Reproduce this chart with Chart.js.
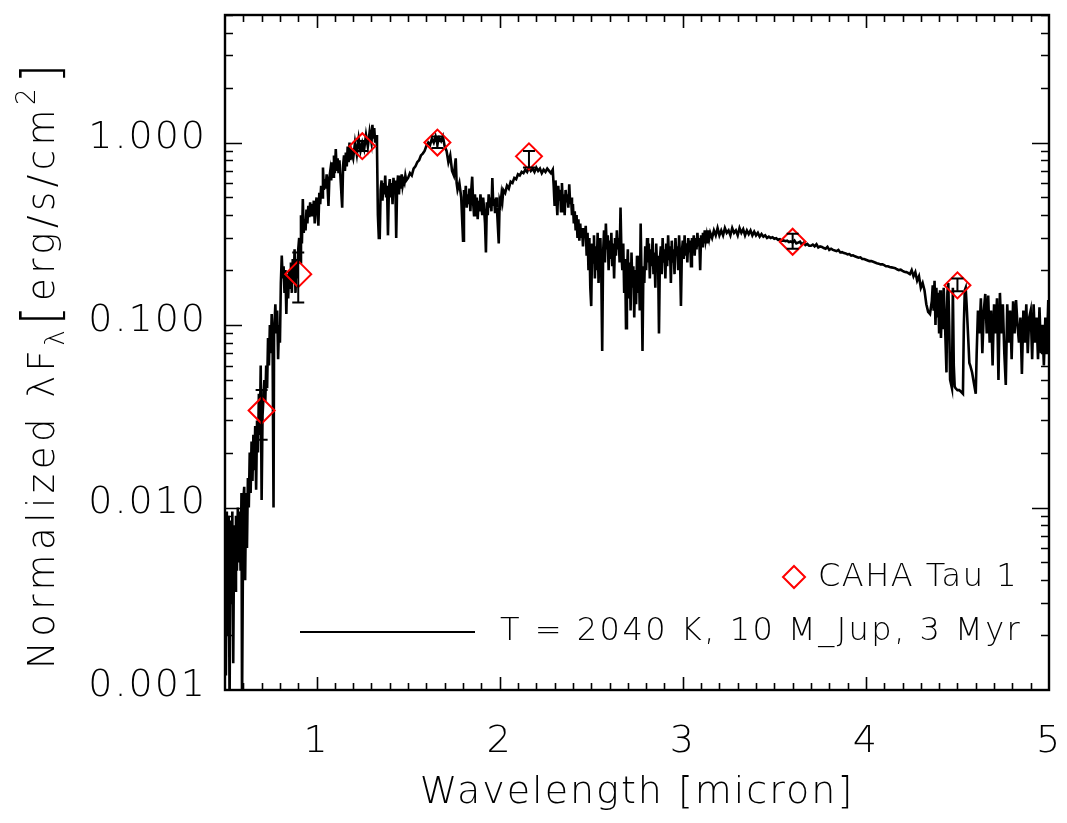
<!DOCTYPE html>
<html>
<head>
<meta charset="utf-8">
<title>CAHA Tau 1 SED</title>
<script src="https://cdn.jsdelivr.net/npm/chart.js@4.4.1/dist/chart.umd.min.js"></script>
<style>
  html, body { margin: 0; padding: 0; background: #ffffff; }
  canvas { display: block; }
</style>
</head>
<body>
<canvas id="sed" width="1067" height="823"></canvas>
<script>
// ---- Model spectrum (T = 2040 K, 10 M_Jup, 3 Myr), wavelength in micron ----
const modelWavelength = [
  0.500, 0.505, 0.510, 0.515, 0.520, 0.525, 0.530, 0.535, 0.540, 0.545,
  0.550, 0.555, 0.560, 0.565, 0.570, 0.575, 0.580, 0.585, 0.590, 0.593,
  0.600, 0.605, 0.610, 0.615, 0.620, 0.625, 0.630, 0.635, 0.640, 0.645,
  0.650, 0.655, 0.660, 0.665, 0.670, 0.675, 0.680, 0.685, 0.690, 0.695,
  0.700, 0.705, 0.710, 0.715, 0.720, 0.725, 0.730, 0.735, 0.740, 0.745,
  0.750, 0.755, 0.760, 0.765, 0.768, 0.775, 0.780, 0.785, 0.790, 0.795,
  0.800, 0.805, 0.810, 0.815, 0.820, 0.825, 0.830, 0.835, 0.840, 0.845,
  0.850, 0.855, 0.860, 0.865, 0.870, 0.875, 0.880, 0.885, 0.890, 0.895,
  0.900, 0.905, 0.910, 0.915, 0.920, 0.925, 0.930, 0.935, 0.940, 0.945,
  0.950, 0.955, 0.960, 0.965, 0.970, 0.975, 0.980, 0.985, 0.990, 0.995,
  1.000, 1.005, 1.010, 1.015, 1.020, 1.025, 1.030, 1.035, 1.040, 1.045,
  1.050, 1.055, 1.060, 1.065, 1.070, 1.075, 1.080, 1.085, 1.090, 1.095,
  1.100, 1.105, 1.110, 1.115, 1.120, 1.125, 1.130, 1.140, 1.145, 1.150,
  1.155, 1.160, 1.165, 1.170, 1.175, 1.180, 1.185, 1.190, 1.200, 1.210,
  1.220, 1.230, 1.240, 1.250, 1.260, 1.270, 1.280, 1.290, 1.300, 1.305,
  1.310, 1.315, 1.320, 1.325, 1.330, 1.335, 1.340, 1.345, 1.350, 1.355,
  1.360, 1.365, 1.370, 1.375, 1.380, 1.385, 1.390, 1.395, 1.400, 1.405,
  1.410, 1.415, 1.420, 1.425, 1.430, 1.435, 1.440, 1.445, 1.450, 1.455,
  1.460, 1.465, 1.470, 1.475, 1.480, 1.485, 1.490, 1.500, 1.510, 1.520,
  1.530, 1.540, 1.550, 1.560, 1.570, 1.580, 1.590, 1.600, 1.610, 1.620,
  1.630, 1.640, 1.650, 1.660, 1.670, 1.680, 1.690, 1.700, 1.710, 1.720,
  1.730, 1.740, 1.750, 1.760, 1.765, 1.770, 1.780, 1.790, 1.800, 1.805,
  1.810, 1.815, 1.820, 1.825, 1.830, 1.835, 1.840, 1.845, 1.850, 1.855,
  1.860, 1.865, 1.870, 1.875, 1.880, 1.885, 1.890, 1.895, 1.900, 1.905,
  1.910, 1.915, 1.920, 1.925, 1.930, 1.935, 1.940, 1.945, 1.950, 1.955,
  1.960, 1.965, 1.970, 1.975, 1.980, 1.985, 1.995, 2.000, 2.005, 2.010,
  2.015, 2.020, 2.030, 2.040, 2.050, 2.060, 2.070, 2.080, 2.090, 2.100,
  2.110, 2.120, 2.130, 2.140, 2.150, 2.160, 2.170, 2.180, 2.190, 2.200,
  2.210, 2.220, 2.230, 2.240, 2.250, 2.260, 2.270, 2.280, 2.290, 2.295,
  2.300, 2.305, 2.310, 2.315, 2.320, 2.325, 2.330, 2.335, 2.340, 2.345,
  2.350, 2.355, 2.360, 2.365, 2.370, 2.375, 2.380, 2.385, 2.390, 2.395,
  2.400, 2.405, 2.410, 2.415, 2.420, 2.425, 2.430, 2.435, 2.440, 2.445,
  2.450, 2.455, 2.460, 2.465, 2.470, 2.475, 2.480, 2.485, 2.490, 2.495,
  2.500, 2.505, 2.510, 2.515, 2.520, 2.525, 2.530, 2.535, 2.540, 2.545,
  2.550, 2.555, 2.560, 2.565, 2.570, 2.575, 2.580, 2.585, 2.590, 2.595,
  2.600, 2.605, 2.610, 2.615, 2.620, 2.625, 2.630, 2.635, 2.640, 2.645,
  2.650, 2.655, 2.660, 2.665, 2.670, 2.675, 2.680, 2.685, 2.690, 2.695,
  2.700, 2.705, 2.710, 2.715, 2.720, 2.725, 2.730, 2.735, 2.740, 2.745,
  2.750, 2.755, 2.760, 2.765, 2.770, 2.775, 2.780, 2.785, 2.790, 2.795,
  2.800, 2.805, 2.810, 2.815, 2.820, 2.825, 2.830, 2.835, 2.840, 2.845,
  2.850, 2.855, 2.860, 2.865, 2.870, 2.875, 2.880, 2.885, 2.890, 2.895,
  2.900, 2.905, 2.910, 2.915, 2.920, 2.925, 2.930, 2.935, 2.940, 2.945,
  2.950, 2.955, 2.960, 2.965, 2.970, 2.975, 2.980, 2.985, 2.990, 2.995,
  3.000, 3.005, 3.010, 3.015, 3.020, 3.025, 3.030, 3.035, 3.040, 3.045,
  3.050, 3.055, 3.060, 3.065, 3.070, 3.075, 3.080, 3.085, 3.090, 3.095,
  3.100, 3.105, 3.110, 3.115, 3.120, 3.125, 3.130, 3.135, 3.140, 3.145,
  3.150, 3.160, 3.170, 3.180, 3.190, 3.200, 3.210, 3.220, 3.230, 3.240,
  3.250, 3.260, 3.270, 3.280, 3.290, 3.300, 3.310, 3.320, 3.330, 3.340,
  3.350, 3.360, 3.370, 3.380, 3.390, 3.400, 3.410, 3.420, 3.430, 3.440,
  3.450, 3.460, 3.470, 3.480, 3.490, 3.500, 3.510, 3.520, 3.530, 3.540,
  3.550, 3.560, 3.570, 3.580, 3.590, 3.600, 3.610, 3.620, 3.630, 3.640,
  3.650, 3.660, 3.670, 3.680, 3.690, 3.700, 3.710, 3.720, 3.730, 3.740,
  3.750, 3.760, 3.770, 3.780, 3.790, 3.800, 3.810, 3.820, 3.830, 3.840,
  3.850, 3.860, 3.870, 3.880, 3.890, 3.900, 3.910, 3.920, 3.930, 3.940,
  3.950, 3.960, 3.970, 3.980, 3.990, 4.000, 4.010, 4.020, 4.030, 4.040,
  4.050, 4.060, 4.070, 4.080, 4.090, 4.100, 4.110, 4.120, 4.130, 4.140,
  4.150, 4.160, 4.170, 4.180, 4.190, 4.200, 4.210, 4.220, 4.230, 4.240,
  4.250, 4.260, 4.270, 4.280, 4.290, 4.300, 4.310, 4.320, 4.330, 4.340,
  4.350, 4.360, 4.365, 4.370, 4.375, 4.380, 4.385, 4.390, 4.395, 4.400,
  4.405, 4.410, 4.415, 4.420, 4.425, 4.430, 4.440, 4.445, 4.450, 4.455,
  4.460, 4.470, 4.475, 4.480, 4.485, 4.490, 4.500, 4.510, 4.520, 4.530,
  4.535, 4.540, 4.545, 4.550, 4.560, 4.565, 4.570, 4.580, 4.590, 4.600,
  4.605, 4.612, 4.620, 4.628, 4.636, 4.644, 4.652, 4.660, 4.668, 4.676,
  4.684, 4.692, 4.700, 4.708, 4.716, 4.724, 4.732, 4.740, 4.748, 4.756,
  4.764, 4.772, 4.780, 4.788, 4.796, 4.804, 4.812, 4.820, 4.828, 4.836,
  4.844, 4.852, 4.860, 4.868, 4.876, 4.884, 4.892, 4.900, 4.908, 4.916,
  4.924, 4.932, 4.940, 4.948, 4.956, 4.964, 4.972, 4.980, 4.988, 4.996,
  5.000
];

// Normalized lambda*F_lambda of the model, one value per wavelength above
const modelFlux = [
  0.0080, 0.0012, 0.0095, 0.0020, 0.0090, 0.0008, 0.0085, 0.0030, 0.0095, 0.0014,
  0.0080, 0.0035, 0.0090, 0.0045, 0.0100, 0.0050, 0.0095, 0.0045, 0.0120, 0.0008,
  0.0110, 0.0130, 0.0040, 0.0120, 0.0060, 0.0145, 0.0100, 0.0200, 0.0120, 0.0230,
  0.0140, 0.0250, 0.0160, 0.0280, 0.0125, 0.0300, 0.0200, 0.0420, 0.0250, 0.0600,
  0.0110, 0.0320, 0.0400, 0.0500, 0.0380, 0.0600, 0.0450, 0.0850, 0.0600, 0.1000,
  0.0700, 0.1150, 0.0750, 0.0100, 0.0900, 0.1300, 0.0900, 0.1200, 0.0650, 0.1000,
  0.0800, 0.1700, 0.2400, 0.1800, 0.2100, 0.1500, 0.2000, 0.1150, 0.1900, 0.1400,
  0.2000, 0.1600, 0.2200, 0.1500, 0.2300, 0.1700, 0.2600, 0.1500, 0.2300, 0.1800,
  0.2600, 0.3000, 0.2200, 0.4000, 0.2800, 0.4900, 0.3200, 0.3800, 0.3300, 0.4300,
  0.3600, 0.4500, 0.3900, 0.4700, 0.4000, 0.4600, 0.4100, 0.4800, 0.3600, 0.4500,
  0.5000, 0.4300, 0.3500, 0.5300, 0.4600, 0.5800, 0.5000, 0.7300, 0.5500, 0.6300,
  0.5600, 0.6700, 0.5800, 0.4500, 0.6400, 0.7000, 0.6200, 0.7800, 0.6500, 0.8500,
  0.6800, 0.9200, 0.7000, 0.8200, 0.6800, 0.8000, 0.6600, 0.4400, 0.7500, 0.8500,
  0.7000, 0.8800, 0.7400, 0.9500, 0.7800, 1.0000, 0.8000, 0.9000, 0.8200, 1.0000,
  0.8600, 1.0500, 0.9000, 1.0000, 0.9200, 1.1000, 0.9500, 1.1500, 1.0000, 1.2500,
  1.0500, 1.2000, 1.0000, 1.1000, 0.9500, 0.4000, 0.3000, 0.3000, 0.5500, 0.6200,
  0.4800, 0.6000, 0.5200, 0.6600, 0.5000, 0.5800, 0.3100, 0.5600, 0.6300, 0.5000,
  0.6000, 0.4600, 0.6400, 0.5500, 0.6200, 0.3000, 0.5800, 0.6600, 0.5200, 0.6300,
  0.5600, 0.6700, 0.5800, 0.6200, 0.6000, 0.6600, 0.6200, 0.6400, 0.6800, 0.6600,
  0.7200, 0.7400, 0.7800, 0.8000, 0.8500, 0.8700, 0.9000, 0.9600, 1.0000, 0.9700,
  1.0500, 1.0000, 1.0800, 0.9800, 1.0600, 1.0200, 1.0800, 0.9500, 0.9000, 0.7800,
  0.8500, 0.7000, 0.6600, 0.8200, 0.6000, 0.5500, 0.6000, 0.5000, 0.2900, 0.5500,
  0.4800, 0.5800, 0.4400, 0.5200, 0.4600, 0.5600, 0.4200, 0.5500, 0.6500, 0.4700,
  0.4000, 0.5200, 0.4400, 0.5000, 0.3800, 0.4800, 0.4200, 0.5200, 0.4500, 0.4000,
  0.5000, 0.4300, 0.3600, 0.2500, 0.4700, 0.4000, 0.5200, 0.4400, 0.5000, 0.4200,
  0.6400, 0.4500, 0.4900, 0.4100, 0.5000, 0.4400, 0.2800, 0.4800, 0.4600, 0.5200,
  0.4800, 0.5500, 0.5300, 0.5800, 0.5600, 0.6100, 0.6000, 0.6400, 0.6300, 0.6700,
  0.6600, 0.6900, 0.6800, 0.7100, 0.6900, 0.7300, 0.7000, 0.7200, 0.6900, 0.7300,
  0.7000, 0.7200, 0.6800, 0.7100, 0.6900, 0.7200, 0.7000, 0.6800, 0.7100, 0.5800,
  0.4500, 0.6200, 0.5000, 0.4000, 0.5800, 0.4800, 0.5500, 0.4200, 0.6000, 0.4600,
  0.5200, 0.4000, 0.5500, 0.4700, 0.5200, 0.4400, 0.5900, 0.4600, 0.5000, 0.4000,
  0.4600, 0.3600, 0.4200, 0.3300, 0.4000, 0.3000, 0.3800, 0.2900, 0.3600, 0.3000,
  0.3400, 0.2700, 0.3300, 0.3000, 0.3500, 0.2400, 0.3200, 0.2000, 0.3000, 0.1600,
  0.1270, 0.2800, 0.2200, 0.3100, 0.1800, 0.2700, 0.2000, 0.3200, 0.1700, 0.2500,
  0.3000, 0.1900, 0.0720, 0.2500, 0.3300, 0.2200, 0.3600, 0.2600, 0.3100, 0.2000,
  0.2900, 0.2300, 0.3200, 0.2100, 0.2800, 0.1800, 0.3000, 0.2400, 0.3300, 0.2600,
  0.3000, 0.2200, 0.4400, 0.2500, 0.2000, 0.2800, 0.1500, 0.2300, 0.0960, 0.1900,
  0.2600, 0.1400, 0.2200, 0.1200, 0.2500, 0.1600, 0.2100, 0.1100, 0.2000, 0.1300,
  0.2400, 0.1500, 0.2200, 0.1200, 0.3600, 0.1800, 0.0720, 0.2100, 0.1700, 0.2700,
  0.2000, 0.3000, 0.2200, 0.2800, 0.1800, 0.2600, 0.2100, 0.3000, 0.1900, 0.2500,
  0.1600, 0.2800, 0.2000, 0.2400, 0.0900, 0.2300, 0.2700, 0.1900, 0.3000, 0.2200,
  0.2600, 0.1800, 0.2800, 0.2100, 0.3100, 0.2300, 0.2700, 0.1700, 0.2900, 0.2200,
  0.2600, 0.1900, 0.3000, 0.2400, 0.2700, 0.2000, 0.3100, 0.2300, 0.1270, 0.2500,
  0.2900, 0.2300, 0.3100, 0.2400, 0.2800, 0.2200, 0.3000, 0.2500, 0.2900, 0.2100,
  0.3000, 0.2600, 0.3100, 0.2400, 0.3000, 0.2600, 0.3200, 0.2700, 0.3000, 0.2000,
  0.3100, 0.2700, 0.3200, 0.2800, 0.3300, 0.2900, 0.3100, 0.2800, 0.3300, 0.3000,
  0.3200, 0.3000, 0.3300, 0.3100, 0.3400, 0.3100, 0.3300, 0.3100, 0.3400, 0.3200,
  0.3300, 0.3100, 0.3400, 0.3200, 0.3300, 0.3100, 0.3400, 0.3200, 0.3350, 0.3100,
  0.3300, 0.3150, 0.3300, 0.3100, 0.3250, 0.3100, 0.3200, 0.3050, 0.3150, 0.3050,
  0.3100, 0.3000, 0.3050, 0.3000, 0.3030, 0.2970, 0.2990, 0.2930, 0.2950, 0.2900,
  0.2910, 0.2880, 0.2900, 0.2850, 0.2870, 0.2830, 0.2900, 0.2800, 0.2830, 0.2860,
  0.2760, 0.2820, 0.2740, 0.2780, 0.2720, 0.2720, 0.2760, 0.2700, 0.2770, 0.2660,
  0.2700, 0.2680, 0.2640, 0.2620, 0.2680, 0.2580, 0.2620, 0.2580, 0.2560, 0.2540,
  0.2580, 0.2500, 0.2510, 0.2480, 0.2470, 0.2440, 0.2450, 0.2400, 0.2410, 0.2380,
  0.2360, 0.2340, 0.2350, 0.2300, 0.2300, 0.2280, 0.2260, 0.2240, 0.2240, 0.2220,
  0.2200, 0.2180, 0.2170, 0.2150, 0.2150, 0.2130, 0.2100, 0.2100, 0.2080, 0.2070,
  0.2060, 0.2050, 0.2020, 0.2000, 0.2010, 0.1980, 0.1960, 0.1950, 0.1930, 0.1900,
  0.2000, 0.1850, 0.1950, 0.1750, 0.1850, 0.1600, 0.1700, 0.1550, 0.1300, 0.1180,
  0.1150, 0.1350, 0.1650, 0.1200, 0.1750, 0.1000, 0.1600, 0.1100, 0.1500, 0.0900,
  0.1550, 0.0850, 0.1300, 0.0950, 0.1600, 0.1200, 0.0550, 0.1500, 0.1700, 0.1000,
  0.0500, 0.0450, 0.1600, 0.0600, 0.0460, 0.0450, 0.0440, 0.0440, 0.0430, 0.0420,
  0.1000, 0.1550, 0.1600, 0.1300, 0.0800, 0.0620, 0.0600, 0.0550, 0.0480, 0.0420,
  0.0700, 0.1200, 0.0900, 0.1400, 0.0700, 0.1200, 0.1480, 0.0900, 0.1450, 0.0800,
  0.1200, 0.0600, 0.1300, 0.0900, 0.1400, 0.0500, 0.1500, 0.0900, 0.1300, 0.0700,
  0.0470, 0.1300, 0.0800, 0.1200, 0.0650, 0.1350, 0.0900, 0.1370, 0.1000, 0.0800,
  0.1100, 0.0540, 0.1200, 0.0800, 0.1300, 0.0700, 0.1100, 0.1200, 0.0650, 0.1300,
  0.0800, 0.1100, 0.0650, 0.1250, 0.0700, 0.1000, 0.0600, 0.1100, 0.0700, 0.1370,
  0.0800
];

// ---- CAHA Tau 1 photometry ----
const photWavelength = [0.70, 0.90, 1.25, 1.66, 2.16, 3.60, 4.50];
const photFlux       = [0.034, 0.190, 0.955, 1.000, 0.840, 0.286, 0.165];
const photFluxLow    = [0.0235, 0.133, 0.900, 0.935, 0.730, 0.262, 0.153];
const photFluxHigh   = [0.044, 0.250, 1.020, 1.080, 0.900, 0.316, 0.180];

// ---- Axis ticks and labels ----
const xTickValues = [1, 2, 3, 4, 5];
const yTickValues = [0.001, 0.01, 0.1, 1];
const legendLabels = ['CAHA Tau 1', 'T = 2040 K, 10 M_Jup, 3 Myr'];
const xTitle = 'Wavelength [micron]';

const FONT = "'DejaVu Sans', 'Liberation Sans', sans-serif";
const FONT_WEIGHT = '300';

// Inward tick marks on all four sides plus the box frame
function drawFrameAndTicks(chart) {
  const { ctx, chartArea: ca, scales } = chart;
  const xs = scales.x, ys = scales.y;
  ctx.save();
  ctx.strokeStyle = '#000';
  ctx.lineWidth = 1.6;
  ctx.beginPath();
  // x ticks: majors at integers, minors every 0.1 micron
  for (let i = 6; i < 50; i++) {
    const v = i / 10;
    const px = Math.round(xs.getPixelForValue(v)) + 0.5;
    const len = (i % 10 === 0) ? 13 : 7;
    ctx.moveTo(px, ca.bottom); ctx.lineTo(px, ca.bottom - len);
    ctx.moveTo(px, ca.top); ctx.lineTo(px, ca.top + len);
  }
  // y ticks: majors at decades, minors at 2..9 of each decade
  for (let d = -3; d <= 0; d++) {
    for (let k = 1; k <= 9; k++) {
      const v = k * Math.pow(10, d);
      if (v > ys.max || v <= ys.min) continue;
      const py = Math.round(ys.getPixelForValue(v)) + 0.5;
      const len = (k === 1) ? 17 : 8;
      ctx.moveTo(ca.left, py); ctx.lineTo(ca.left + len, py);
      ctx.moveTo(ca.right, py); ctx.lineTo(ca.right - len, py);
    }
  }
  ctx.stroke();
  ctx.lineWidth = 2.4;
  ctx.strokeRect(ca.left, ca.top, ca.right - ca.left, ca.bottom - ca.top);
  ctx.restore();
}

// Rotated y-axis title with subscript lambda and squared cm
function drawYTitle(chart) {
  const { ctx } = chart;
  const parts = [
    { t: 'Normalized \u03BBF', size: 37, dy: 0 },
    { t: '\u03BB', size: 26, dy: 10 },
    { t: '[', size: 52, dy: 4 },
    { t: 'erg/s/cm', size: 37, dy: 0 },
    { t: '2', size: 26, dy: -19 },
    { t: ']', size: 52, dy: 4 }
  ];
  ctx.save();
  ctx.fillStyle = '#000';
  ctx.textBaseline = 'alphabetic';
  ctx.textAlign = 'left';
  ctx.letterSpacing = '4.5px';
  let total = 0;
  parts.forEach(p => {
    ctx.font = `${FONT_WEIGHT} ${p.size}px ${FONT}`;
    p.w = ctx.measureText(p.t).width;
    total += p.w;
  });
  ctx.translate(54, 364);
  ctx.rotate(-Math.PI / 2);
  let x = -total / 2;
  parts.forEach(p => {
    ctx.font = `${FONT_WEIGHT} ${p.size}px ${FONT}`;
    ctx.fillText(p.t, x, p.dy);
    x += p.w;
  });
  ctx.restore();
}

// Legend inside the lower-right of the plot
function drawLegend(chart) {
  const { ctx, chartArea: ca } = chart;
  ctx.save();
  ctx.font = `${FONT_WEIGHT} 32px ${FONT}`;
  ctx.textBaseline = 'middle';
  ctx.textAlign = 'left';
  ctx.fillStyle = '#000';
  // photometry symbol
  const dx = ca.left + 569, dy = ca.bottom - 113;
  ctx.strokeStyle = '#ff0000';
  ctx.lineWidth = 2;
  ctx.beginPath();
  ctx.moveTo(dx, dy - 11); ctx.lineTo(dx + 11, dy); ctx.lineTo(dx, dy + 11); ctx.lineTo(dx - 11, dy);
  ctx.closePath();
  ctx.stroke();
  ctx.letterSpacing = '1.5px';
  ctx.fillText(legendLabels[0], dx + 24, dy + 1);
  // model line
  const ly = ca.bottom - 58;
  ctx.strokeStyle = '#000';
  ctx.beginPath();
  ctx.moveTo(ca.left + 75, ly); ctx.lineTo(ca.left + 250, ly);
  ctx.stroke();
  ctx.letterSpacing = '2.5px';
  ctx.fillText(legendLabels[1], ca.left + 275, ly);
  ctx.restore();
}

// Vertical error bars with caps for the photometry
function drawErrorBars(chart) {
  const { ctx, scales } = chart;
  ctx.save();
  ctx.strokeStyle = '#000';
  ctx.lineWidth = 2;
  ctx.beginPath();
  photWavelength.forEach((w, i) => {
    const px = scales.x.getPixelForValue(w);
    const top = scales.y.getPixelForValue(photFluxHigh[i]);
    const bot = scales.y.getPixelForValue(photFluxLow[i]);
    ctx.moveTo(px, top); ctx.lineTo(px, bot);
    ctx.moveTo(px - 6, top); ctx.lineTo(px + 6, top);
    ctx.moveTo(px - 6, bot); ctx.lineTo(px + 6, bot);
  });
  ctx.stroke();
  ctx.restore();
}

const sedDecor = {
  id: 'sedDecor',
  // slightly open lettering for the axis labels drawn by Chart.js
  beforeDraw(chart) { chart.ctx.letterSpacing = '2px'; },
  afterDatasetsDraw(chart) { drawErrorBars(chart); },
  afterDraw(chart) {
    drawFrameAndTicks(chart);
    drawLegend(chart);
    drawYTitle(chart);
  }
};

// Fixed axis boxes, without the extra room Chart.js reserves for end labels
function fixBox(s, size) {
  if (s.isHorizontal()) s.height = size; else s.width = size;
  s.paddingLeft = 0; s.paddingRight = 0; s.paddingTop = 0; s.paddingBottom = 0;
}

const tickFont = { family: FONT, size: 38, weight: FONT_WEIGHT };

new Chart(document.getElementById('sed'), {
  type: 'scatter',
  data: {
    datasets: [
      {
        label: legendLabels[1],
        type: 'line',
        data: modelWavelength.map((w, i) => ({ x: w, y: modelFlux[i] })),
        borderColor: '#000000',
        borderWidth: 2.6,
        borderJoinStyle: 'miter',
        pointRadius: 0,
        tension: 0,
        fill: false,
        order: 2
      },
      {
        label: legendLabels[0],
        data: photWavelength.map((w, i) => ({ x: w, y: photFlux[i] })),
        pointStyle: 'rectRot',
        pointRadius: 13,
        pointHoverRadius: 13,
        borderColor: '#ff0000',
        backgroundColor: 'rgba(0,0,0,0)',
        borderWidth: 2,
        showLine: false,
        order: 1
      }
    ]
  },
  options: {
    responsive: false,
    animation: false,
    devicePixelRatio: 1,
    layout: { padding: { left: 0, right: 18, top: 9, bottom: 0 } },
    plugins: {
      legend: { display: false },
      tooltip: { enabled: false },
      title: { display: false }
    },
    scales: {
      x: {
        type: 'linear',
        min: 0.5,
        max: 5,
        afterBuildTicks: (s) => { s.ticks = xTickValues.map(v => ({ value: v })); },
        afterFit: (s) => fixBox(s, 133),
        grid: { display: false, drawTicks: false },
        border: { display: false },
        ticks: {
          color: '#000',
          font: tickFont,
          padding: 29,
          maxRotation: 0,
          autoSkip: false,
          callback: (v) => String(v)
        },
        title: {
          display: true,
          text: xTitle,
          color: '#000',
          font: tickFont,
          padding: { top: 0, bottom: 7 }
        }
      },
      y: {
        type: 'logarithmic',
        min: 0.001,
        max: 5,
        afterBuildTicks: (s) => { s.ticks = yTickValues.map(v => ({ value: v, major: true })); },
        afterFit: (s) => fixBox(s, 225),
        grid: { display: false, drawTicks: false },
        border: { display: false },
        ticks: {
          color: '#000',
          font: tickFont,
          padding: 18,
          labelOffset: -4,
          autoSkip: false,
          callback: (v) => Number(v).toFixed(3)
        }
      }
    }
  },
  plugins: [sedDecor]
});
</script>
</body>
</html>
